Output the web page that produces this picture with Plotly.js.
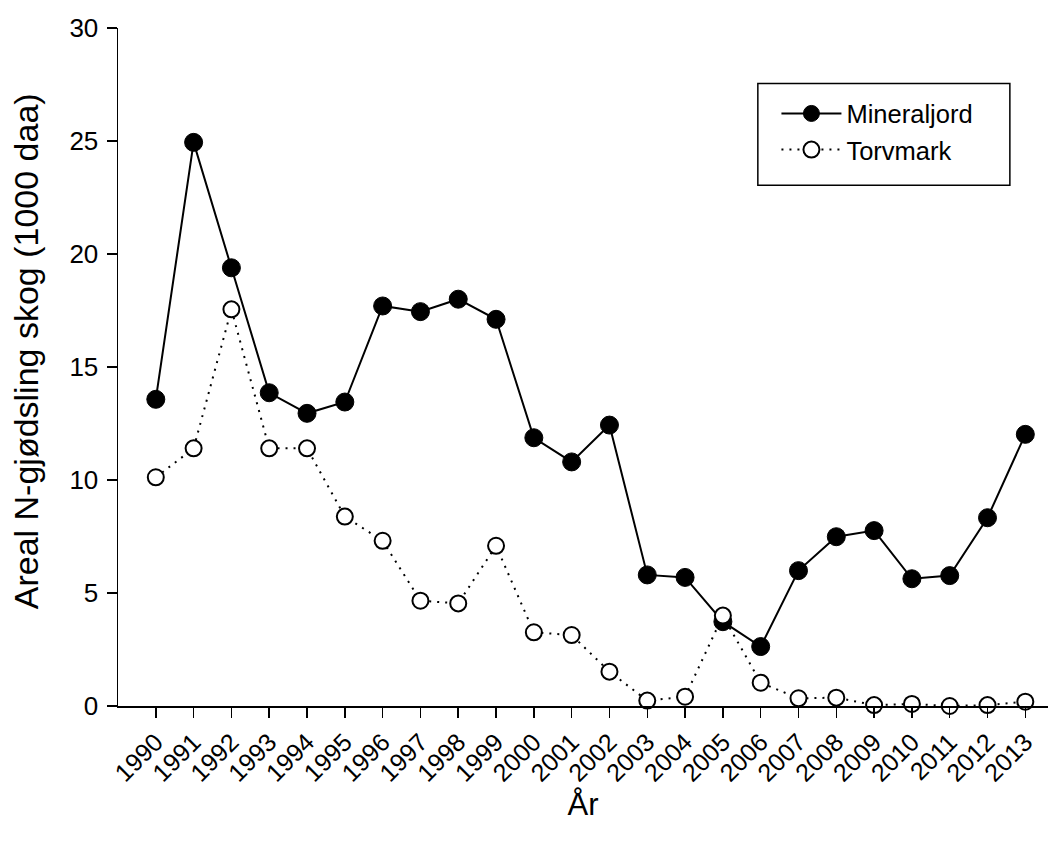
<!DOCTYPE html>
<html>
<head>
<meta charset="utf-8">
<script src="https://cdn.plot.ly/plotly-3.0.1.min.js"></script>
<style>html,body{margin:0;padding:0;background:#fff;}#chart{width:1051px;height:843px;}</style>
</head>
<body>
<div id="chart"></div>
<script>
// Data
const years = [1990,1991,1992,1993,1994,1995,1996,1997,1998,1999,2000,2001,2002,2003,2004,2005,2006,2007,2008,2009,2010,2011,2012,2013];
const yearLabels = years.map(String);
const mineraljord = [13.57,24.94,19.39,13.86,12.95,13.45,17.70,17.45,18.00,17.11,11.87,10.80,12.43,5.80,5.69,3.73,2.63,5.99,7.49,7.76,5.63,5.77,8.33,12.02];
const torvmark = [10.12,11.40,17.55,11.40,11.40,8.38,7.31,4.66,4.54,7.09,3.26,3.14,1.52,0.24,0.41,4.00,1.03,0.34,0.37,0.04,0.09,0.00,0.04,0.19];
const seriesNames = ["Mineraljord","Torvmark"];
const yTicks = [0,5,10,15,20,25,30];
const xTitle = "År";
const yTitle = "Areal N-gjødsling skog (1000 daa)";

const FONT = "Liberation Sans, Arial, sans-serif";

const traces = [
  {
    x: years, y: mineraljord, name: seriesNames[0], type: "scatter", mode: "lines+markers",
    line: {color: "#000", width: 2},
    marker: {symbol: "circle", size: 18, color: "#000", line: {color: "#000", width: 1}},
    cliponaxis: false
  },
  {
    x: years, y: torvmark, name: seriesNames[1], type: "scatter", mode: "lines+markers",
    line: {color: "#000", width: 2, dash: "2px,6px"},
    marker: {symbol: "circle", size: 16, color: "#fff", line: {color: "#000", width: 2}},
    cliponaxis: false
  }
];

const layout = {
  width: 1051, height: 843,
  margin: {l: 118, r: 3, t: 28, b: 137},
  paper_bgcolor: "#fff", plot_bgcolor: "#fff",
  font: {family: FONT, color: "#000"},
  showlegend: true,
  legend: {
    x: 0.708, y: 0.908, xanchor: "left", yanchor: "top",
    bgcolor: "rgba(0,0,0,0)", borderwidth: 0,
    font: {family: FONT, size: 25.5, color: "#000"},
    itemwidth: 60, tracegroupgap: 0
  },
  xaxis: {
    range: [1989, 2013.6],
    tickvals: years, ticktext: yearLabels, tickangle: -45,
    ticks: "outside", ticklen: 10, tickwidth: 1.5, tickcolor: "#000",
    showline: true, linecolor: "#000", linewidth: 1.5,
    showgrid: false, zeroline: false,
    tickfont: {family: FONT, size: 25, color: "#000"},
    title: {text: xTitle, font: {family: FONT, size: 31, color: "#000"}, standoff: 2}
  },
  yaxis: {
    range: [0, 30],
    tickvals: yTicks,
    ticks: "outside", ticklen: 10, tickwidth: 1.5, tickcolor: "#000",
    showline: true, linecolor: "#000", linewidth: 1.5,
    showgrid: false, zeroline: false,
    ticklabelstandoff: 3,
    tickfont: {family: FONT, size: 26, color: "#000"}
  },
  annotations: [
    {text: yTitle, xref: "paper", yref: "paper", x: -0.098, y: 0.523,
     xanchor: "center", yanchor: "middle", textangle: -90, showarrow: false,
     font: {family: FONT, size: 34, color: "#000"}}
  ],
  shapes: [
    {type: "rect", xref: "paper", yref: "paper", x0: 0.688, x1: 0.959, y0: 0.918, y1: 0.768,
     line: {color: "#000", width: 1.5}, fillcolor: "rgba(0,0,0,0)"}
  ]
};

Plotly.newPlot("chart", traces, layout, {displayModeBar: false, staticPlot: true});
</script>
</body>
</html>
